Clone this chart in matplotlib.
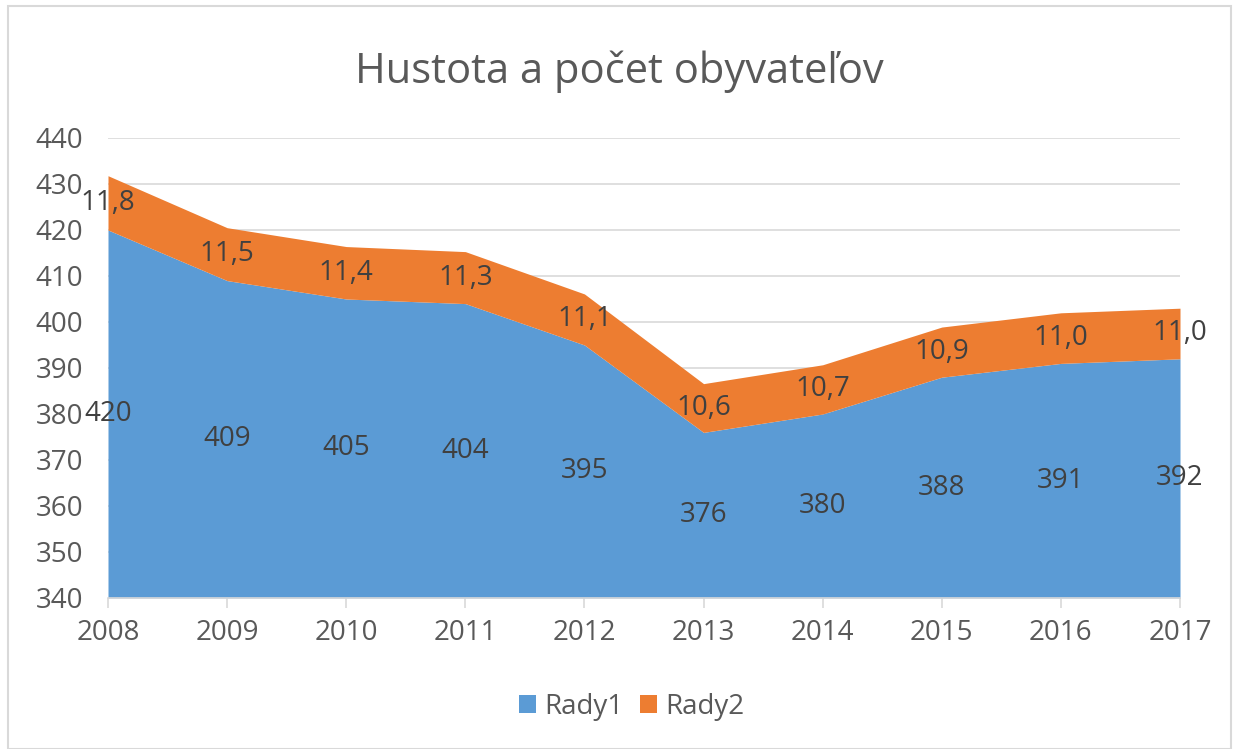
import matplotlib.pyplot as plt
import numpy as np
from matplotlib.patches import Rectangle

years = ['2008', '2009', '2010', '2011', '2012', '2013', '2014', '2015', '2016', '2017']
rady1 = [420, 409, 405, 404, 395, 376, 380, 388, 391, 392]
rady2 = [11.8, 11.5, 11.4, 11.3, 11.1, 10.6, 10.7, 10.9, 11.0, 11.0]

BLUE = '#5B9BD5'
ORANGE = '#ED7D31'
TEXT = '#595959'
YMIN, YMAX = 340, 440

plt.rcParams['font.family'] = ['Open Sans', 'DejaVu Sans']

fig = plt.figure(figsize=(12.39, 7.49), dpi=100)
ax = fig.add_axes([108 / 1239, 1 - 598 / 749, (1180 - 108) / 1239, (598 - 138) / 749])

x = np.arange(len(years))
top = [a + b for a, b in zip(rady1, rady2)]
ax.fill_between(x, YMIN, rady1, color=BLUE, lw=0, label='Rady1', zorder=2)
ax.fill_between(x, rady1, top, color=ORANGE, lw=0, label='Rady2', zorder=2)

# data labels centred in each band
for xi, a, b in zip(x, rady1, rady2):
    ax.text(xi, (YMIN + a) / 2, f'{a}', ha='center', va='center', fontsize=20, color='#404040', zorder=3)
    ax.text(xi, a + b / 2, f'{b:.1f}'.replace('.', ','), ha='center', va='center',
            fontsize=20, color='#404040', zorder=3)

ax.set_xlim(0, len(years) - 1)
ax.set_ylim(YMIN, YMAX)
ax.set_yticks(range(YMIN, YMAX + 1, 10))
ax.set_xticks(x)
ax.set_xticklabels(years)
ax.grid(axis='y', color='#D9D9D9', lw=1.2, zorder=0)
for s in ['top', 'right', 'left']:
    ax.spines[s].set_visible(False)
ax.spines['bottom'].set_color('#D9D9D9')
ax.spines['bottom'].set_linewidth(1.2)
ax.spines['bottom'].set_zorder(4)
ax.tick_params(axis='y', length=0, labelsize=20, labelcolor=TEXT, pad=18)
ax.tick_params(axis='x', length=7, color='#D9D9D9', width=1.2, labelsize=20, labelcolor=TEXT, pad=8)

fig.text(0.5, 1 - 72 / 749, 'Hustota a počet obyvateľov', ha='center', va='center',
         fontsize=30, color=TEXT)

fig.legend(loc='center', bbox_to_anchor=(0.51, 1 - 707 / 749), ncol=2, frameon=False,
           fontsize=20, labelcolor=TEXT, handlelength=0.6, handleheight=0.6,
           columnspacing=0.6, handletextpad=0.3)

# outer chart border
fig.patches.append(Rectangle((8 / 1239, 0.0), 1 - 16 / 1239, 1 - 6 / 749, transform=fig.transFigure,
                             fill=False, edgecolor='#D9D9D9', lw=1.5))

fig.savefig('out.png', dpi=100)
